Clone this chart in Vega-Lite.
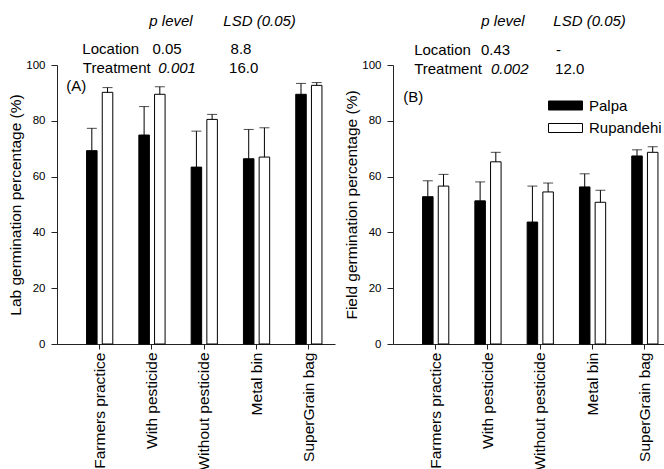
{
  "$schema": "https://vega.github.io/schema/vega-lite/v6.json",
  "background": "white",
  "padding": {"left": 8, "top": 13, "right": 0, "bottom": 0},
  "spacing": 9,
  "config": {
    "view": {"stroke": null},
    "font": "Liberation Sans",
    "axis": {"domainColor": "#222", "tickColor": "#222", "labelColor": "black", "titleColor": "black", "labelFont": "Liberation Sans", "titleFont": "Liberation Sans", "titleFontWeight": "normal", "grid": false},
    "text": {"font": "Liberation Sans", "fontSize": 15, "color": "black", "baseline": "middle"}
  },
  "datasets": {
    "germ": [
      {"panel": "A", "treatment": "Farmers practice", "location": "Palpa", "mean": 69.3, "upper": 77.3},
      {"panel": "A", "treatment": "Farmers practice", "location": "Rupandehi", "mean": 90.2, "upper": 91.9},
      {"panel": "A", "treatment": "With pesticide", "location": "Palpa", "mean": 74.9, "upper": 85.1},
      {"panel": "A", "treatment": "With pesticide", "location": "Rupandehi", "mean": 89.5, "upper": 92.2},
      {"panel": "A", "treatment": "Without pesticide", "location": "Palpa", "mean": 63.4, "upper": 76.3},
      {"panel": "A", "treatment": "Without pesticide", "location": "Rupandehi", "mean": 80.5, "upper": 82.3},
      {"panel": "A", "treatment": "Metal bin", "location": "Palpa", "mean": 66.4, "upper": 76.9},
      {"panel": "A", "treatment": "Metal bin", "location": "Rupandehi", "mean": 67.0, "upper": 77.5},
      {"panel": "A", "treatment": "SuperGrain bag", "location": "Palpa", "mean": 89.5, "upper": 93.4},
      {"panel": "A", "treatment": "SuperGrain bag", "location": "Rupandehi", "mean": 92.7, "upper": 93.7},
      {"panel": "B", "treatment": "Farmers practice", "location": "Palpa", "mean": 52.8, "upper": 58.5},
      {"panel": "B", "treatment": "Farmers practice", "location": "Rupandehi", "mean": 56.6, "upper": 60.8},
      {"panel": "B", "treatment": "With pesticide", "location": "Palpa", "mean": 51.3, "upper": 58.1},
      {"panel": "B", "treatment": "With pesticide", "location": "Rupandehi", "mean": 65.3, "upper": 68.7},
      {"panel": "B", "treatment": "Without pesticide", "location": "Palpa", "mean": 43.7, "upper": 56.6},
      {"panel": "B", "treatment": "Without pesticide", "location": "Rupandehi", "mean": 54.5, "upper": 57.7},
      {"panel": "B", "treatment": "Metal bin", "location": "Palpa", "mean": 56.3, "upper": 61.0},
      {"panel": "B", "treatment": "Metal bin", "location": "Rupandehi", "mean": 50.8, "upper": 55.1},
      {"panel": "B", "treatment": "SuperGrain bag", "location": "Palpa", "mean": 67.4, "upper": 69.6},
      {"panel": "B", "treatment": "SuperGrain bag", "location": "Rupandehi", "mean": 68.7, "upper": 70.7}
    ],
    "stats": [
      {"panel": "A", "term": "Location", "p": "0.05", "lsd": "8.8"},
      {"panel": "A", "term": "Treatment", "p": "0.001", "lsd": "16.0"},
      {"panel": "B", "term": "Location", "p": "0.43", "lsd": "-"},
      {"panel": "B", "term": "Treatment", "p": "0.002", "lsd": "12.0"}
    ],
    "notes": [
      {"panel": "A", "kind": "tag", "text": "(A)"},
      {"panel": "A", "kind": "phead", "text": "p level"},
      {"panel": "A", "kind": "lsdhead", "text": "LSD (0.05)"},
      {"panel": "B", "kind": "tag", "text": "(B)"},
      {"panel": "B", "kind": "phead", "text": "p level"},
      {"panel": "B", "kind": "lsdhead", "text": "LSD (0.05)"}
    ]
  },
  "resolve": {"scale": {"fill": "independent"}, "legend": {"fill": "independent"}},
  "hconcat": [
    {
      "width": 278,
      "height": 279,
      "layer": [
        {
          "data": {"name": "germ"},
          "transform": [{"filter": "datum.panel === 'A'"}],
          "mark": {"type": "bar", "stroke": "black", "strokeWidth": 1},
          "encoding": {
            "x": {"field": "treatment", "type": "nominal", "scale": {"domain": ["Farmers practice", "With pesticide", "Without pesticide", "Metal bin", "SuperGrain bag"], "paddingInner": 0, "paddingOuter": 0.158, "align": 1},
              "axis": {"title": null, "labelAngle": -90, "labelFontSize": 15.5, "tickSize": 5, "labelPadding": 3}},
            "xOffset": {"field": "location", "type": "nominal", "scale": {"paddingInner": 0.33, "paddingOuter": 0.83}},
            "y": {"field": "mean", "type": "quantitative", "scale": {"domain": [0, 100], "nice": false},
              "axis": {"title": "Lab germination percentage (%)", "values": [0, 10, 20, 30, 40, 50, 60, 70, 80, 90, 100], "labelExpr": "datum.value % 20 === 0 ? datum.label : ''", "tickSize": {"condition": {"test": "datum.value % 20 === 0", "value": 6}, "value": 3.5}, "labelPadding": 6, "labelFontSize": 11.5, "titleFontSize": 15.5, "titlePadding": 2}},
            "fill": {"field": "location", "type": "nominal", "scale": {"domain": ["Palpa", "Rupandehi"], "range": ["black", "white"]}, "legend": null}
          }
        },
        {
          "data": {"name": "germ"},
          "transform": [{"filter": "datum.panel === 'A'"}],
          "mark": {"type": "rule", "color": "black", "strokeWidth": 1},
          "encoding": {
            "x": {"field": "treatment", "type": "nominal"},
            "xOffset": {"field": "location", "type": "nominal"},
            "y": {"field": "mean", "type": "quantitative"},
            "y2": {"field": "upper"}
          }
        },
        {
          "data": {"name": "germ"},
          "transform": [{"filter": "datum.panel === 'A'"}],
          "mark": {"type": "tick", "orient": "horizontal", "color": "black", "size": 10, "thickness": 1},
          "encoding": {
            "x": {"field": "treatment", "type": "nominal"},
            "xOffset": {"field": "location", "type": "nominal"},
            "y": {"field": "upper", "type": "quantitative"}
          }
        },
        {
          "data": {"name": "notes"},
          "transform": [{"filter": "datum.panel === 'A' && datum.kind === 'tag'"}],
          "mark": {"type": "text", "align": "left", "dx": -33.5},
          "encoding": {"x": {"datum": "Farmers practice"}, "y": {"datum": 92.3}, "text": {"field": "text"}}
        },
        {
          "data": {"name": "notes"},
          "transform": [{"filter": "datum.panel === 'A' && datum.kind === 'phead'"}],
          "mark": {"type": "text", "align": "center", "dx": 19, "fontStyle": "italic"},
          "encoding": {"x": {"datum": "With pesticide"}, "y": {"datum": 115.8}, "text": {"field": "text"}}
        },
        {
          "data": {"name": "notes"},
          "transform": [{"filter": "datum.panel === 'A' && datum.kind === 'lsdhead'"}],
          "mark": {"type": "text", "align": "center", "dx": 3, "fontStyle": "italic"},
          "encoding": {"x": {"datum": "Metal bin"}, "y": {"datum": 115.8}, "text": {"field": "text"}}
        },
        {
          "data": {"name": "stats"},
          "transform": [{"filter": "datum.panel === 'A' && datum.term === 'Location'"}],
          "layer": [
            {"mark": {"type": "text", "align": "left", "dx": -17.3}, "encoding": {"x": {"datum": "Farmers practice"}, "y": {"datum": 105.9}, "text": {"field": "term"}}},
            {"mark": {"type": "text", "align": "left", "dx": 0.5}, "encoding": {"x": {"datum": "With pesticide"}, "y": {"datum": 105.9}, "text": {"field": "p"}}},
            {"mark": {"type": "text", "align": "left", "dx": -26}, "encoding": {"x": {"datum": "Metal bin"}, "y": {"datum": 105.9}, "text": {"field": "lsd"}}}
          ]
        },
        {
          "data": {"name": "stats"},
          "transform": [{"filter": "datum.panel === 'A' && datum.term === 'Treatment'"}],
          "layer": [
            {"mark": {"type": "text", "align": "left", "dx": -16.8}, "encoding": {"x": {"datum": "Farmers practice"}, "y": {"datum": 99.1}, "text": {"field": "term"}}},
            {"mark": {"type": "text", "align": "left", "dx": 6.4, "fontStyle": "italic"}, "encoding": {"x": {"datum": "With pesticide"}, "y": {"datum": 99.1}, "text": {"field": "p"}}},
            {"mark": {"type": "text", "align": "left", "dx": -27.5}, "encoding": {"x": {"datum": "Metal bin"}, "y": {"datum": 99.1}, "text": {"field": "lsd"}}}
          ]
        }
      ]
    },
    {
      "width": 278,
      "height": 279,
      "layer": [
        {
          "data": {"name": "germ"},
          "transform": [{"filter": "datum.panel === 'B'"}],
          "mark": {"type": "bar", "stroke": "black", "strokeWidth": 1},
          "encoding": {
            "x": {"field": "treatment", "type": "nominal", "scale": {"domain": ["Farmers practice", "With pesticide", "Without pesticide", "Metal bin", "SuperGrain bag"], "paddingInner": 0, "paddingOuter": 0.158, "align": 1},
              "axis": {"title": null, "labelAngle": -90, "labelFontSize": 15.5, "tickSize": 5, "labelPadding": 3}},
            "xOffset": {"field": "location", "type": "nominal", "scale": {"paddingInner": 0.33, "paddingOuter": 0.83}},
            "y": {"field": "mean", "type": "quantitative", "scale": {"domain": [0, 100], "nice": false},
              "axis": {"title": "Field germination percentage (%)", "values": [0, 10, 20, 30, 40, 50, 60, 70, 80, 90, 100], "labelExpr": "datum.value % 20 === 0 ? datum.label : ''", "tickSize": {"condition": {"test": "datum.value % 20 === 0", "value": 6}, "value": 3.5}, "labelPadding": 6, "labelFontSize": 11.5, "titleFontSize": 15.5, "titlePadding": 2}},
            "fill": {"field": "location", "type": "nominal", "scale": {"domain": ["Palpa", "Rupandehi"], "range": ["black", "white"]},
              "legend": {"orient": "none", "legendX": 162, "legendY": 30, "title": null, "symbolType": "M-1.7,-0.45H1.7V0.45H-1.7Z", "symbolSize": 400, "symbolStrokeColor": "black", "symbolStrokeWidth": 1, "symbolOpacity": 1, "labelFontSize": 15, "labelFont": "Liberation Sans", "labelColor": "black", "labelOffset": 13, "rowPadding": 3.5, "padding": 0, "offset": 0}}
          }
        },
        {
          "data": {"name": "germ"},
          "transform": [{"filter": "datum.panel === 'B'"}],
          "mark": {"type": "rule", "color": "black", "strokeWidth": 1},
          "encoding": {
            "x": {"field": "treatment", "type": "nominal"},
            "xOffset": {"field": "location", "type": "nominal"},
            "y": {"field": "mean", "type": "quantitative"},
            "y2": {"field": "upper"}
          }
        },
        {
          "data": {"name": "germ"},
          "transform": [{"filter": "datum.panel === 'B'"}],
          "mark": {"type": "tick", "orient": "horizontal", "color": "black", "size": 10, "thickness": 1},
          "encoding": {
            "x": {"field": "treatment", "type": "nominal"},
            "xOffset": {"field": "location", "type": "nominal"},
            "y": {"field": "upper", "type": "quantitative"}
          }
        },
        {
          "data": {"name": "notes"},
          "transform": [{"filter": "datum.panel === 'B' && datum.kind === 'tag'"}],
          "mark": {"type": "text", "align": "left", "dx": -32.5},
          "encoding": {"x": {"datum": "Farmers practice"}, "y": {"datum": 88.5}, "text": {"field": "text"}}
        },
        {
          "data": {"name": "notes"},
          "transform": [{"filter": "datum.panel === 'B' && datum.kind === 'phead'"}],
          "mark": {"type": "text", "align": "center", "dx": 15, "fontStyle": "italic"},
          "encoding": {"x": {"datum": "With pesticide"}, "y": {"datum": 115.8}, "text": {"field": "text"}}
        },
        {
          "data": {"name": "notes"},
          "transform": [{"filter": "datum.panel === 'B' && datum.kind === 'lsdhead'"}],
          "mark": {"type": "text", "align": "center", "dx": -3, "fontStyle": "italic"},
          "encoding": {"x": {"datum": "Metal bin"}, "y": {"datum": 115.8}, "text": {"field": "text"}}
        },
        {
          "data": {"name": "stats"},
          "transform": [{"filter": "datum.panel === 'B' && datum.term === 'Location'"}],
          "layer": [
            {"mark": {"type": "text", "align": "left", "dx": -21.5}, "encoding": {"x": {"datum": "Farmers practice"}, "y": {"datum": 105.4}, "text": {"field": "term"}}},
            {"mark": {"type": "text", "align": "left", "dx": -7}, "encoding": {"x": {"datum": "With pesticide"}, "y": {"datum": 105.4}, "text": {"field": "p"}}},
            {"mark": {"type": "text", "align": "left", "dx": -36.5}, "encoding": {"x": {"datum": "Metal bin"}, "y": {"datum": 105.4}, "text": {"field": "lsd"}}}
          ]
        },
        {
          "data": {"name": "stats"},
          "transform": [{"filter": "datum.panel === 'B' && datum.term === 'Treatment'"}],
          "layer": [
            {"mark": {"type": "text", "align": "left", "dx": -21.5}, "encoding": {"x": {"datum": "Farmers practice"}, "y": {"datum": 98.6}, "text": {"field": "term"}}},
            {"mark": {"type": "text", "align": "left", "dx": 3, "fontStyle": "italic"}, "encoding": {"x": {"datum": "With pesticide"}, "y": {"datum": 98.6}, "text": {"field": "p"}}},
            {"mark": {"type": "text", "align": "left", "dx": -37.5}, "encoding": {"x": {"datum": "Metal bin"}, "y": {"datum": 98.6}, "text": {"field": "lsd"}}}
          ]
        }
      ]
    }
  ]
}
